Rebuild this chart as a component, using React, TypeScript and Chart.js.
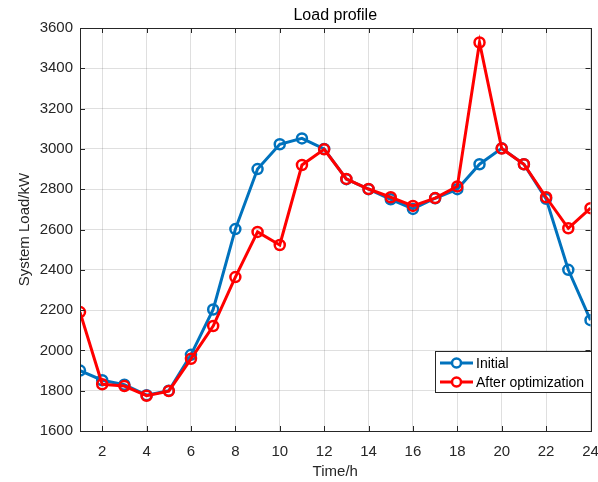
import React, { useEffect, useRef } from "react";
import { Chart, registerables } from "chart.js";

Chart.register(...registerables);

const hours = [1, 2, 3, 4, 5, 6, 7, 8, 9, 10, 11, 12, 13, 14, 15, 16, 17, 18, 19, 20, 21, 22, 23, 24];
const initialLoad = [1900, 1852, 1830, 1778, 1800, 1978, 2203, 2602, 2900, 3023, 3052, 3000, 2850, 2800, 2750, 2702, 2755, 2800, 2924, 3003, 2924, 2752, 2400, 2150];
const optimizedLoad = [2190, 1832, 1823, 1775, 1798, 1958, 2121, 2364, 2588, 2523, 2920, 2998, 2851, 2801, 2760, 2717, 2756, 2814, 3528, 3002, 2924, 2760, 2606, 2706];
const xTickValues = [2, 4, 6, 8, 10, 12, 14, 16, 18, 20, 22, 24];
const yTickValues = [1600, 1800, 2000, 2200, 2400, 2600, 2800, 3000, 3200, 3400, 3600];
const seriesNames = ["Initial", "After optimization"];

const FONT = "'Liberation Sans', Arial, Helvetica, sans-serif";
const BLUE = "#0072BD";
const RED = "#FF0000";
const AXIS = "#262626";

const boxPlugin = {
  id: "matlabBox",
  afterDatasetsDraw(chart: any) {
    const { ctx, chartArea, scales } = chart;
    const { left, right, top, bottom } = chartArea;
    ctx.save();
    ctx.strokeStyle = AXIS;
    ctx.lineWidth = 1;
    ctx.strokeRect(Math.round(left) + 0.5, Math.round(top) + 0.5, Math.round(right - left), Math.round(bottom - top));
    const t = 5;
    ctx.beginPath();
    xTickValues.forEach((v) => {
      const x = Math.round(scales.x.getPixelForValue(v)) + 0.5;
      ctx.moveTo(x, bottom);
      ctx.lineTo(x, bottom - t);
      ctx.moveTo(x, top);
      ctx.lineTo(x, top + t);
    });
    yTickValues.forEach((v) => {
      const y = Math.round(scales.y.getPixelForValue(v)) + 0.5;
      ctx.moveTo(left, y);
      ctx.lineTo(left + t, y);
      ctx.moveTo(right, y);
      ctx.lineTo(right - t, y);
    });
    ctx.stroke();
    ctx.restore();
  },
};

const legendPlugin = {
  id: "insideLegend",
  afterDraw(chart: any) {
    const { ctx, chartArea } = chart;
    const w = 156;
    const h = 41;
    const x0 = Math.round(chartArea.right - w);
    const y0 = Math.round(chartArea.bottom - 39 - h);
    ctx.save();
    ctx.fillStyle = "#ffffff";
    ctx.fillRect(x0, y0, w, h);
    ctx.strokeStyle = AXIS;
    ctx.lineWidth = 1;
    ctx.strokeRect(x0 + 0.5, y0 + 0.5, w, h);
    ctx.font = `14px ${FONT}`;
    ctx.textBaseline = "middle";
    ctx.textAlign = "left";
    chart.data.datasets.forEach((ds: any, i: number) => {
      const cy = y0 + 12 + i * 19;
      ctx.strokeStyle = ds.borderColor;
      ctx.lineWidth = 3;
      ctx.beginPath();
      ctx.moveTo(x0 + 5, cy);
      ctx.lineTo(x0 + 38, cy);
      ctx.stroke();
      ctx.lineWidth = 2.5;
      ctx.beginPath();
      ctx.arc(x0 + 21.5, cy, 4.5, 0, Math.PI * 2);
      ctx.fillStyle = "#ffffff";
      ctx.fill();
      ctx.stroke();
      ctx.fillStyle = "#000000";
      ctx.fillText(ds.label, x0 + 41, cy + 1);
    });
    ctx.restore();
  },
};

export default function App() {
  const ref = useRef<HTMLCanvasElement | null>(null);

  useEffect(() => {
    if (!ref.current) return;
    const chart = new Chart(ref.current, {
      type: "line",
      data: {
        datasets: [
          {
            label: seriesNames[0],
            data: hours.map((h, i) => ({ x: h, y: initialLoad[i] })),
            borderColor: BLUE,
            backgroundColor: BLUE,
            borderWidth: 3,
            pointRadius: 5,
            pointBorderWidth: 2.5,
            pointBackgroundColor: "rgba(255,255,255,0)",
            pointBorderColor: BLUE,
            tension: 0,
            order: 1,
          },
          {
            label: seriesNames[1],
            data: hours.map((h, i) => ({ x: h, y: optimizedLoad[i] })),
            borderColor: RED,
            backgroundColor: RED,
            borderWidth: 3,
            pointRadius: 5,
            pointBorderWidth: 2.5,
            pointBackgroundColor: "rgba(255,255,255,0)",
            pointBorderColor: RED,
            tension: 0,
            order: 0,
          },
        ],
      },
      options: {
        responsive: false,
        animation: false,
        devicePixelRatio: 1,
        layout: { padding: { left: 0, right: 6, top: 0, bottom: 0 } },
        plugins: {
          legend: { display: false },
          tooltip: { enabled: false },
          title: {
            display: true,
            text: "Load profile",
            fullSize: false,
            color: "#000000",
            font: { family: FONT, size: 16, weight: "normal", lineHeight: 1 },
            padding: { top: 8, bottom: 4 },
          },
        },
        scales: {
          x: {
            type: "linear",
            min: 1,
            max: 24,
            afterBuildTicks: (s: any) => {
              s.ticks = xTickValues.map((v) => ({ value: v }));
            },
            afterFit: (s: any) => {
              s.height = 51;
              s.paddingLeft = 0;
              s.paddingRight = 0;
            },
            border: { display: false },
            grid: { color: "rgba(38,38,38,0.15)", drawTicks: false, lineWidth: 1 },
            ticks: {
              color: AXIS,
              font: { family: FONT, size: 15 },
              padding: 12,
              autoSkip: false,
              maxRotation: 0,
              callback: (v: any) => String(v),
            },
            title: {
              display: true,
              text: "Time/h",
              color: AXIS,
              font: { family: FONT, size: 15, lineHeight: 1.2 },
              padding: { top: 2, bottom: 1 },
            },
          },
          y: {
            type: "linear",
            min: 1600,
            max: 3600,
            afterBuildTicks: (s: any) => {
              s.ticks = yTickValues.map((v) => ({ value: v }));
            },
            afterFit: (s: any) => {
              s.width = 80;
              s.paddingTop = 0;
              s.paddingBottom = 0;
            },
            border: { display: false },
            grid: { color: "rgba(38,38,38,0.15)", drawTicks: false, lineWidth: 1 },
            ticks: {
              color: AXIS,
              font: { family: FONT, size: 15 },
              padding: 7,
              callback: (v: any) => String(v),
            },
            title: {
              display: true,
              text: "System Load/kW",
              color: AXIS,
              font: { family: FONT, size: 15, lineHeight: 1.2 },
              padding: { top: 16, bottom: 0 },
            },
          },
        },
      },
      plugins: [boxPlugin, legendPlugin],
    } as any);
    return () => chart.destroy();
  }, []);

  return (
    <div style={{ position: "fixed", left: 0, top: 0, width: 598, height: 482, background: "#ffffff" }}>
      <canvas ref={ref} width={598} height={482} style={{ display: "block" }} />
    </div>
  );
}
